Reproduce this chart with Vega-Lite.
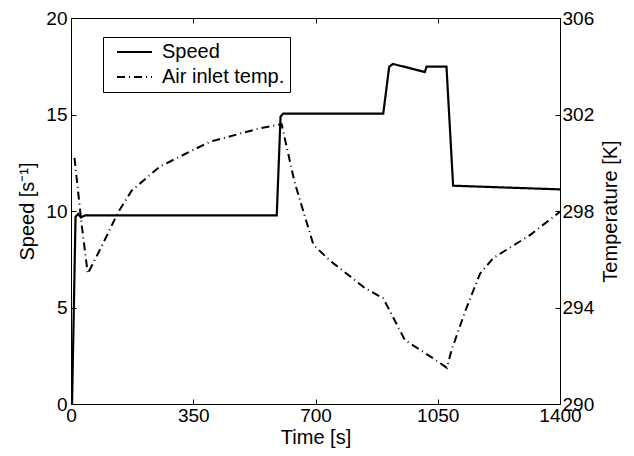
{
  "$schema": "https://vega.github.io/schema/vega-lite/v6.json",
  "width": 489,
  "height": 386,
  "autosize": "none",
  "padding": {"left": 71, "top": 18, "right": 74, "bottom": 52},
  "background": "white",
  "config": {
    "view": {"stroke": "black", "strokeWidth": 1},
    "font": "Liberation Sans",
    "axis": {
      "labelFont": "Liberation Sans",
      "titleFont": "Liberation Sans",
      "labelFontSize": 19,
      "titleFontSize": 20,
      "titleFontWeight": "normal",
      "labelColor": "black",
      "titleColor": "black",
      "domainColor": "black",
      "tickColor": "black",
      "grid": false,
      "tickSize": -5,
      "labelPadding": 8,
      "labelFlush": false,
      "labelOverlap": false,
      "format": "d"
    },
    "legend": {
      "labelFont": "Liberation Sans",
      "labelFontSize": 20,
      "labelColor": "black"
    }
  },
  "data": {
    "values": [
      {"t": 3, "v": 0, "series": "Speed"},
      {"t": 13, "v": 9.7, "series": "Speed"},
      {"t": 21, "v": 9.85, "series": "Speed"},
      {"t": 28, "v": 9.67, "series": "Speed"},
      {"t": 40, "v": 9.77, "series": "Speed"},
      {"t": 589, "v": 9.77, "series": "Speed"},
      {"t": 600, "v": 14.9, "series": "Speed"},
      {"t": 608, "v": 15.05, "series": "Speed"},
      {"t": 894, "v": 15.05, "series": "Speed"},
      {"t": 911, "v": 17.48, "series": "Speed"},
      {"t": 922, "v": 17.62, "series": "Speed"},
      {"t": 1013, "v": 17.2, "series": "Speed"},
      {"t": 1018, "v": 17.48, "series": "Speed"},
      {"t": 1075, "v": 17.48, "series": "Speed"},
      {"t": 1094, "v": 11.31, "series": "Speed"},
      {"t": 1400, "v": 11.12, "series": "Speed"},
      {"t": 10, "v": 300.2, "series": "Air inlet temp."},
      {"t": 30, "v": 297.5, "series": "Air inlet temp."},
      {"t": 48, "v": 295.4, "series": "Air inlet temp."},
      {"t": 90, "v": 296.6, "series": "Air inlet temp."},
      {"t": 135, "v": 297.95, "series": "Air inlet temp."},
      {"t": 174, "v": 298.85, "series": "Air inlet temp."},
      {"t": 255, "v": 299.85, "series": "Air inlet temp."},
      {"t": 398, "v": 300.87, "series": "Air inlet temp."},
      {"t": 541, "v": 301.43, "series": "Air inlet temp."},
      {"t": 603, "v": 301.6, "series": "Air inlet temp."},
      {"t": 640, "v": 299.2, "series": "Air inlet temp."},
      {"t": 694, "v": 296.6, "series": "Air inlet temp."},
      {"t": 741, "v": 295.95, "series": "Air inlet temp."},
      {"t": 842, "v": 294.8, "series": "Air inlet temp."},
      {"t": 894, "v": 294.38, "series": "Air inlet temp."},
      {"t": 956, "v": 292.65, "series": "Air inlet temp."},
      {"t": 1037, "v": 291.89, "series": "Air inlet temp."},
      {"t": 1076, "v": 291.5, "series": "Air inlet temp."},
      {"t": 1090, "v": 292.25, "series": "Air inlet temp."},
      {"t": 1130, "v": 293.9, "series": "Air inlet temp."},
      {"t": 1171, "v": 295.4, "series": "Air inlet temp."},
      {"t": 1209, "v": 296.05, "series": "Air inlet temp."},
      {"t": 1314, "v": 297.0, "series": "Air inlet temp."},
      {"t": 1400, "v": 297.97, "series": "Air inlet temp."}
    ]
  },
  "encoding": {
    "strokeDash": {
      "field": "series",
      "type": "nominal",
      "scale": {"domain": ["Speed", "Air inlet temp."], "range": [[1, 0], [8, 4, 1, 4]]},
      "legend": {
        "title": null,
        "orient": "none",
        "legendX": 32,
        "legendY": 19,
        "strokeColor": "black",
        "fillColor": "white",
        "padding": 5,
        "symbolType": "M0,0H7",
        "symbolSize": 100,
        "symbolStrokeWidth": 2,
        "symbolStrokeColor": "black",
        "symbolOffset": -1,
        "labelOffset": 35,
        "rowPadding": 5
      }
    }
  },
  "layer": [
    {
      "transform": [{"filter": "datum.series === 'Speed'"}],
      "mark": {"type": "line", "color": "black", "strokeWidth": 2.2},
      "encoding": {
        "x": {
          "field": "t", "type": "quantitative",
          "scale": {"domain": [0, 1400], "nice": false},
          "axis": {"values": [0, 350, 700, 1050, 1400], "title": "Time [s]", "titlePadding": 2, "labelPadding": 7}
        },
        "y": {
          "field": "v", "type": "quantitative",
          "scale": {"domain": [0, 20], "nice": false},
          "axis": {"values": [0, 5, 10, 15, 20], "title": "Speed [s⁻¹]", "titlePadding": 8, "orient": "left", "labelPadding": 9}
        }
      }
    },
    {
      "transform": [{"filter": "datum.series === 'Air inlet temp.'"}],
      "mark": {"type": "line", "color": "black", "strokeWidth": 2},
      "encoding": {
        "x": {
          "field": "t", "type": "quantitative",
          "scale": {"domain": [0, 1400], "nice": false},
          "axis": {"values": [0, 350, 700, 1050, 1400], "orient": "top", "labels": false, "title": null}
        },
        "y": {
          "field": "v", "type": "quantitative",
          "scale": {"domain": [290, 306], "nice": false, "zero": false},
          "axis": {"values": [290, 294, 298, 302, 306], "title": "Temperature [K]", "orient": "right", "titleAngle": 270, "titlePadding": 27, "labelPadding": 7}
        }
      }
    }
  ],
  "resolve": {"scale": {"y": "independent", "x": "independent"}, "axis": {"x": "independent", "y": "independent"}}
}
